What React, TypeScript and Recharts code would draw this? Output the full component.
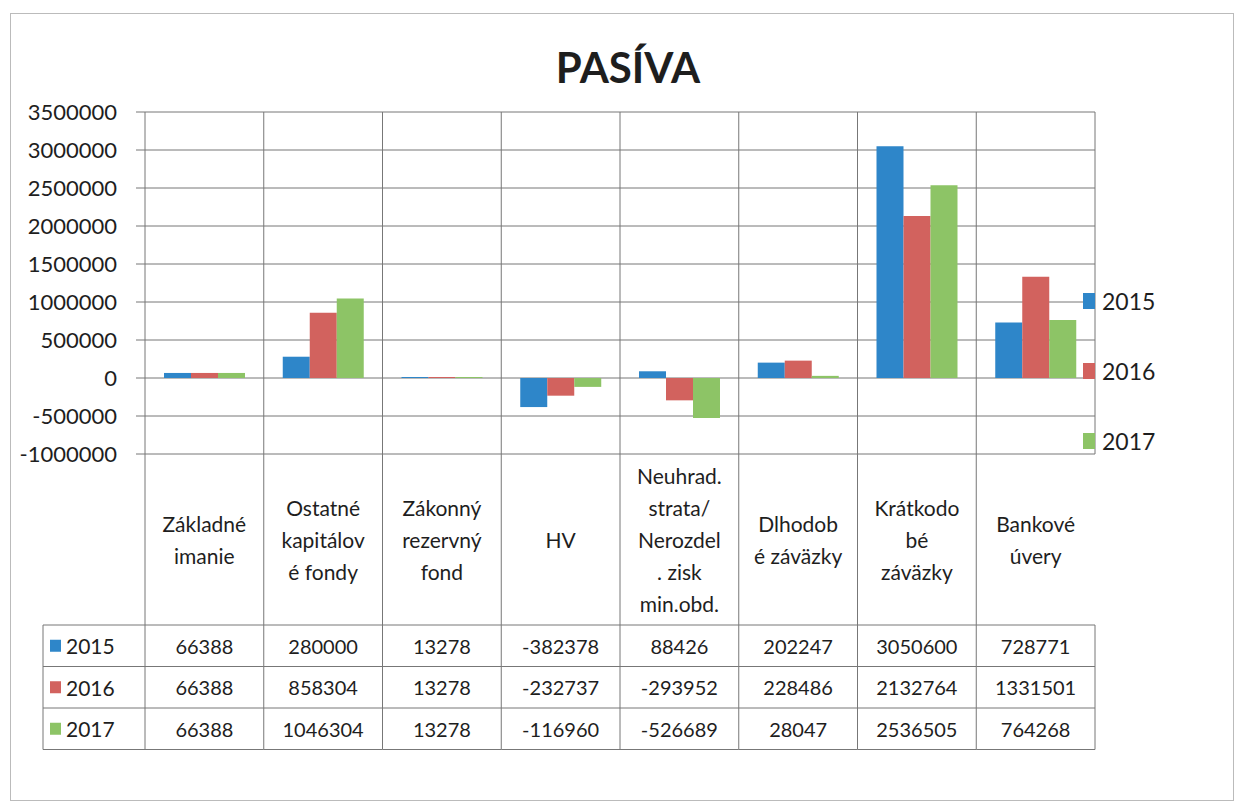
import { BarChart, Bar, XAxis, YAxis, CartesianGrid } from 'recharts';

const categories = [
  'Základné imanie',
  'Ostatné kapitálové fondy',
  'Zákonný rezervný fond',
  'HV',
  'Neuhrad. strata/ Nerozdel. zisk min.obd.',
  'Dlhodobé záväzky',
  'Krátkodobé záväzky',
  'Bankové úvery',
];

// wrapped the way the table header shows them
const categoryLines = [
  ['Základné', 'imanie'],
  ['Ostatné', 'kapitálov', 'é fondy'],
  ['Zákonný', 'rezervný', 'fond'],
  ['HV'],
  ['Neuhrad.', 'strata/', 'Nerozdel', '. zisk', 'min.obd.'],
  ['Dlhodob', 'é záväzky'],
  ['Krátkodo', 'bé', 'záväzky'],
  ['Bankové', 'úvery'],
];

const years = ['2015', '2016', '2017'];
const values2015 = [66388, 280000, 13278, -382378, 88426, 202247, 3050600, 728771];
const values2016 = [66388, 858304, 13278, -232737, -293952, 228486, 2132764, 1331501];
const values2017 = [66388, 1046304, 13278, -116960, -526689, 28047, 2536505, 764268];
const yTicks = [-1000000, -500000, 0, 500000, 1000000, 1500000, 2000000, 2500000, 3000000, 3500000];

const colors = ['#2E86C9', '#D2625E', '#8DC466'];
const seriesValues = [values2015, values2016, values2017];

const data = categories.map((name, i) => ({
  name,
  y2015: values2015[i],
  y2016: values2016[i],
  y2017: values2017[i],
}));

const FONT = 'Lato, "Open Sans", sans-serif';
const BAND = 950 / categories.length;
const LINE = '#777';
const HEADER_H = 171;
const ROW_H = 41.5;
const INK = '#1e1e1e';

const TableTick = (props: any) => {
  const { x, y, payload, index } = props;
  const left = x - BAND / 2;
  const right = x + BAND / 2;
  const lines = categoryLines[index] || [];
  const lh = 32;
  const top0 = y + HEADER_H / 2 - ((lines.length - 1) * lh) / 2;
  const tableBottom = y + HEADER_H + ROW_H * 3;
  const rowYs = [0, 1, 2, 3].map((r) => y + HEADER_H + r * ROW_H);
  return (
    <g>
      <line x1={left} x2={left} y1={y} y2={tableBottom} stroke={LINE} />
      {index === categories.length - 1 && (
        <line x1={right} x2={right} y1={y + HEADER_H} y2={tableBottom} stroke={LINE} />
      )}
      {rowYs.map((ry, r) => (
        <line key={r} x1={left} x2={right} y1={ry} y2={ry} stroke={LINE} />
      ))}
      {lines.map((t, k) => (
        <text
          key={k}
          x={x}
          y={top0 + k * lh}
          textAnchor="middle"
          dominantBaseline="central"
          fontFamily={FONT}
          fontSize={21}
          fill={INK}
        >
          {t}
        </text>
      ))}
      {seriesValues.map((vals, r) => (
        <text
          key={'v' + r}
          x={x}
          y={rowYs[r] + ROW_H / 2}
          textAnchor="middle"
          dominantBaseline="central"
          fontFamily={FONT}
          fontSize={20}
          fill={INK}
        >
          {vals[index]}
        </text>
      ))}
      {index === 0 && (
        <g>
          <line x1={43} x2={43} y1={y + HEADER_H} y2={tableBottom} stroke={LINE} />
          {rowYs.map((ry, r) => (
            <line key={'l' + r} x1={43} x2={left} y1={ry} y2={ry} stroke={LINE} />
          ))}
          {years.map((yr, r) => (
            <g key={'y' + r}>
              <rect x={50} y={rowYs[r] + ROW_H / 2 - 6} width={11} height={12} fill={colors[r]} />
              <text
                x={66}
                y={rowYs[r] + ROW_H / 2}
                dominantBaseline="central"
                fontFamily={FONT}
                fontSize={21}
                fill={INK}
              >
                {yr}
              </text>
            </g>
          ))}
        </g>
      )}
      <title>{payload.value}</title>
    </g>
  );
};

const SideLegend = () => (
  <div style={{ position: 'absolute', left: 1083, top: 287, width: 110, height: 170, fontFamily: FONT, fontSize: 23, color: INK }}>
    {years.map((yr, i) => (
      <div key={yr} style={{ position: 'absolute', left: 0, top: i * 70, display: 'flex', alignItems: 'center' }}>
        <span style={{ display: 'inline-block', width: 12, height: 16, background: colors[i], marginRight: 7 }} />
        <span>{yr}</span>
      </div>
    ))}
  </div>
);

export default function App() {
  return (
    <div style={{ position: 'absolute', left: 0, top: 0, width: 1238, height: 806, background: '#fff' }}>
      <div
        style={{
          position: 'absolute',
          left: 10,
          top: 13,
          width: 1222,
          height: 786,
          border: '1px solid #bbb',
        }}
      />
      <div
        style={{
          position: 'absolute',
          left: 0,
          width: 1238,
          top: 42,
          textAlign: 'center',
          fontFamily: FONT,
          fontWeight: 700,
          fontSize: 42,
          color: INK,
          paddingLeft: 18,
          boxSizing: 'border-box',
        }}
      >
        PASÍVA
      </div>
      <div style={{ position: 'absolute', left: 0, top: 0 }}>
        <BarChart
          width={1238}
          height={806}
          data={data}
          margin={{ top: 112, right: 143, bottom: 52, left: 45 }}
          barCategoryGap={19}
          barGap={0}
        >
          <CartesianGrid
            stroke={LINE}
            verticalCoordinatesGenerator={({ offset }: any) =>
              Array.from({ length: categories.length + 1 }, (_, i) => offset.left + (i * offset.width) / categories.length)
            }
          />
          <XAxis
            dataKey="name"
            height={300}
            axisLine={false}
            tickLine={false}
            tickSize={0}
            tickMargin={0}
            interval={0}
            tick={<TableTick />}
          />
          <YAxis
            width={100}
            domain={[-1000000, 3500000]}
            ticks={yTicks}
            axisLine={false}
            tickLine={{ stroke: LINE }}
            tickSize={9}
            tickMargin={19}
            tick={{ fontFamily: FONT, fontSize: 22, fill: INK }}
          />
          <Bar dataKey="y2015" name="2015" fill={colors[0]} isAnimationActive={false} />
          <Bar dataKey="y2016" name="2016" fill={colors[1]} isAnimationActive={false} />
          <Bar dataKey="y2017" name="2017" fill={colors[2]} isAnimationActive={false} />
        </BarChart>
      </div>
      <SideLegend />
    </div>
  );
}
